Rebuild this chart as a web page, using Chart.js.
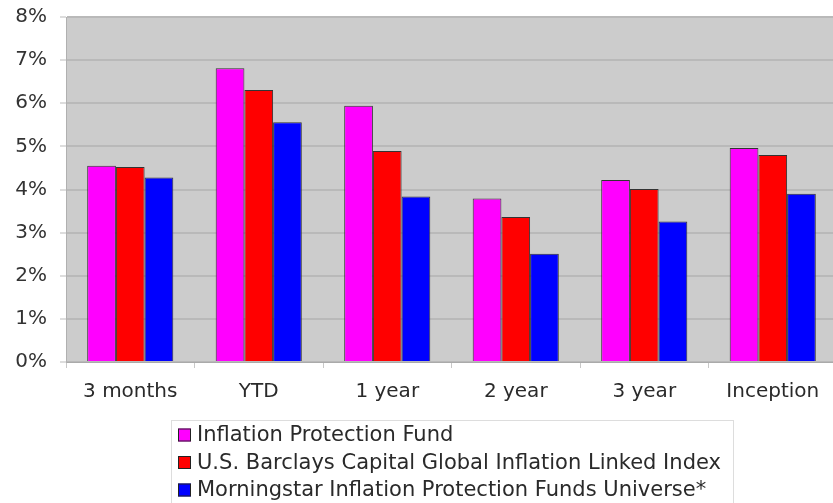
<!DOCTYPE html>
<html>
<head>
<meta charset="utf-8">
<style>
  html, body { margin: 0; padding: 0; background: #fff; overflow: hidden; }
  #wrap { width: 840px; height: 503px; }
</style>
<script src="https://cdn.jsdelivr.net/npm/chart.js@4/dist/chart.umd.min.js"></script>
</head>
<body>
<div id="wrap"><canvas id="returnsChart" width="840" height="503"></canvas></div>
<script>
// Periods and annualised returns (%)
const periods = ['3 months', 'YTD', '1 year', '2 year', '3 year', 'Inception'];
const fundReturns = [4.55, 6.81, 5.94, 3.79, 4.22, 4.96];
const indexReturns = [4.52, 6.31, 4.89, 3.36, 4.01, 4.80];
const universeReturns = [4.28, 5.56, 3.84, 2.51, 3.26, 3.90];
const seriesNames = [
    'Inflation Protection Fund',
    'U.S. Barclays Capital Global Inflation Linked Index',
    'Morningstar Inflation Protection Funds Universe*'
];
const seriesColors = ['#ff00ff', '#ff0000', '#0000ff'];
const yTicks = [0, 1, 2, 3, 4, 5, 6, 7, 8];

const FONT = '"DejaVu Sans", Verdana, sans-serif';
const FONT_SIZE = 20;

// Grey plot background
const plotBackground = {
    id: 'plotBackground',
    beforeDraw(chart) {
        const { ctx, chartArea } = chart;
        ctx.save();
        ctx.fillStyle = '#cccccc';
        ctx.fillRect(chartArea.left, chartArea.top, chartArea.right - chartArea.left, chartArea.bottom - chartArea.top);
        ctx.restore();
    }
};

// Stacked legend in a framed box under the axis
const boxLegend = {
    id: 'boxLegend',
    afterDraw(chart) {
        const ctx = chart.ctx;
        ctx.save();
        ctx.strokeStyle = '#dddddd';
        ctx.lineWidth = 1;
        ctx.strokeRect(171.5, 420.5, 562, 100);
        ctx.font = '21px ' + FONT;
        ctx.textBaseline = 'middle';
        chart.data.datasets.forEach((ds, i) => {
            const y = 435 + i * 27.5;
            ctx.fillStyle = ds.backgroundColor;
            ctx.fillRect(178, y - 6.5, 13, 13);
            ctx.strokeStyle = '#222';
            ctx.strokeRect(178.5, y - 6, 12, 12);
            ctx.fillStyle = '#2a2a2a';
            ctx.fillText(ds.label, 197, y + 1);
        });
        ctx.restore();
    }
};

const datasets = [fundReturns, indexReturns, universeReturns].map((vals, i) => ({
    label: seriesNames[i],
    data: vals,
    backgroundColor: seriesColors[i],
    borderColor: '#333333',
    borderWidth: 1,
    borderSkipped: 'bottom',
    categoryPercentage: 0.67,
    barPercentage: 1.0
}));

new Chart(document.getElementById('returnsChart'), {
    type: 'bar',
    data: { labels: periods, datasets: datasets },
    options: {
        responsive: false,
        animation: false,
        layout: { padding: { top: 17, right: 3, bottom: 101, left: 0 } },
        plugins: {
            legend: { display: false },
            tooltip: { enabled: false }
        },
        scales: {
            x: {
                afterFit(scale) { scale.height = 40; },
                grid: {
                    drawOnChartArea: false,
                    drawTicks: true,
                    tickLength: 6,
                    color: '#c8c8c8'
                },
                border: { color: '#aaaaaa' },
                ticks: {
                    color: '#2a2a2a',
                    font: { family: FONT, size: FONT_SIZE },
                    padding: 12,
                    maxRotation: 0
                }
            },
            y: {
                min: 0,
                max: 8,
                afterFit(scale) {
                    scale.width = 66;
                    // keep the plot top on the 17px layout padding
                    scale.paddingTop = 0;
                    scale.paddingBottom = 0;
                },
                afterBuildTicks(scale) {
                    scale.ticks = yTicks.map(v => ({ value: v }));
                },
                grid: {
                    color: '#b9b9b9',
                    lineWidth: 2,
                    tickLength: 6,
                    tickColor: '#dddddd'
                },
                border: { color: '#b0b0b0' },
                ticks: {
                    color: '#333',
                    font: { family: FONT, size: FONT_SIZE },
                    padding: 13,
                    callback: v => v + '%'
                }
            }
        }
    },
    plugins: [plotBackground, boxLegend]
});
</script>
</body>
</html>
